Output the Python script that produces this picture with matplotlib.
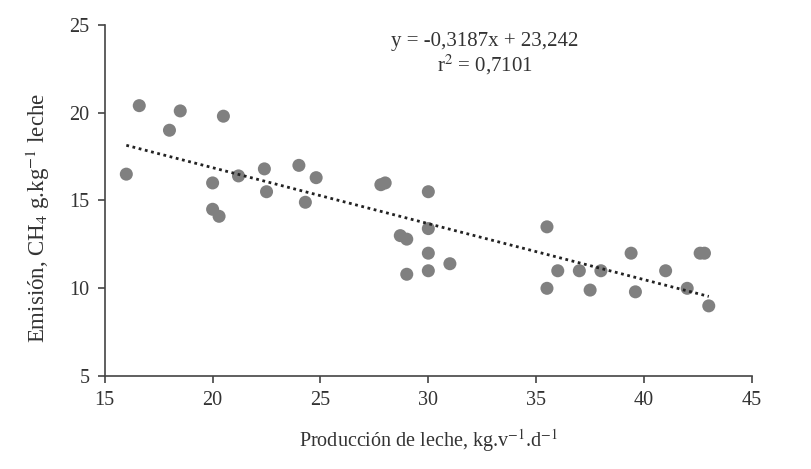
import numpy as np
import matplotlib
matplotlib.use("Agg")
import matplotlib.pyplot as plt

# milk production (kg/cow/day) vs CH4 emission (g/kg milk)
produccion = [16.0, 16.6, 18.0, 18.5, 20.0, 20.0, 20.3, 20.5, 21.2, 22.4,
              22.5, 24.0, 24.3, 24.8, 27.8, 28.0, 28.7, 29.0, 29.0, 30.0,
              30.0, 30.0, 30.0, 31.0, 35.5, 35.5, 36.0, 37.0, 37.5, 38.0,
              39.4, 39.6, 41.0, 42.0, 42.6, 42.8, 43.0]
emision = [16.5, 20.4, 19.0, 20.1, 16.0, 14.5, 14.1, 19.8, 16.4, 16.8,
           15.5, 17.0, 14.9, 16.3, 15.9, 16.0, 13.0, 12.8, 10.8, 15.5,
           13.4, 12.0, 11.0, 11.4, 13.5, 10.0, 11.0, 11.0, 9.9, 11.0,
           12.0, 9.8, 11.0, 10.0, 12.0, 12.0, 9.0]

slope = -0.3187
intercept = 23.242
r2 = 0.7101

plt.rcParams['font.family'] = ['Liberation Serif', 'DejaVu Serif']
plt.rcParams['mathtext.fontset'] = 'stix'

fig = plt.figure(figsize=(8.12, 4.69), dpi=100)
ax = fig.add_axes([0.129, 0.198, 0.797, 0.749])

ax.scatter(produccion, emision, s=88, color="#808080", edgecolors="none", zorder=3)

xfit = np.array([min(produccion), max(produccion)])
ax.plot(xfit, slope * xfit + intercept, linestyle=(0, (1, 1.3)), color="#222222",
        linewidth=2.0, zorder=4)

ax.set_xlim(15, 45)
ax.set_ylim(5, 25)
ax.set_xticks(np.arange(15, 46, 5))
ax.set_yticks(np.arange(5, 26, 5))
ax.spines['top'].set_visible(False)
ax.spines['right'].set_visible(False)
for s in ('left', 'bottom'):
    ax.spines[s].set_color("#444444")
    ax.spines[s].set_linewidth(1.2)
ax.tick_params(direction='out', length=5, width=1.2, colors="#444444",
               labelsize=14.5, labelcolor="#333333", pad=6)

ax.set_xlabel("Producción de leche, kg.v$^{-1}$.d$^{-1}$", fontsize=14.5,
              color="#333333", labelpad=12)
ax.set_ylabel("Emisión, CH$_4$ g.kg$^{-1}$ leche", fontsize=16.5,
              color="#333333")
ax.yaxis.set_label_coords(-0.082, 0.45)

eq = f"y = {slope:.4f}x + {intercept:.3f}".replace(".", ",")
ax.text(0.587, 0.954, eq, transform=ax.transAxes, ha='center', va='center',
        fontsize=15, color="#333333")
ax.text(0.587, 0.886, f"r$^2$ = {r2:.4f}".replace(".", ","), transform=ax.transAxes,
        ha='center', va='center', fontsize=15, color="#333333")

fig.savefig("out.png", dpi=100)
